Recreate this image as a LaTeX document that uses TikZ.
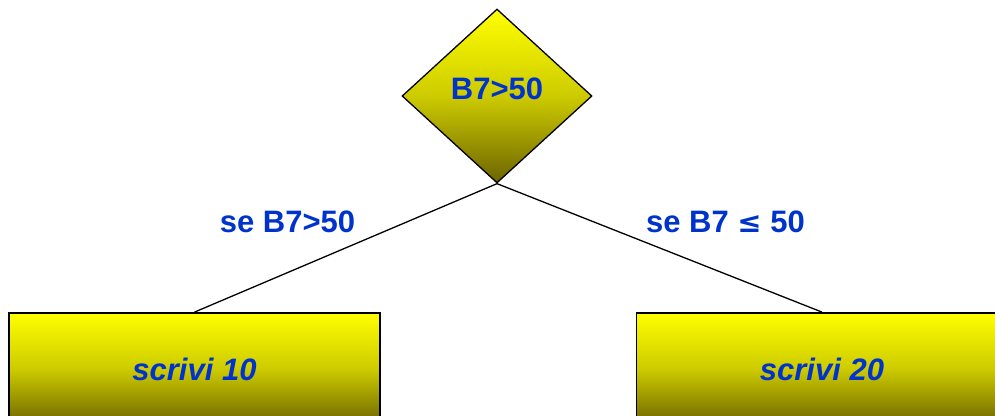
\documentclass[tikz,border=0pt]{standalone}
\usepackage{fontspec}
\setmainfont{Liberation Sans}
\newfontfamily\symfont{DejaVu Sans}
\usetikzlibrary{shapes.geometric}

\definecolor{txtblue}{RGB}{0,51,204}
\definecolor{olivemid}{RGB}{205,203,0}
\definecolor{olivebot}{RGB}{108,100,0}

\tikzset{
  bigtext/.style={font=\fontsize{31bp}{37bp}\selectfont\bfseries, text=txtblue},
  yellowfill/.style={top color=yellow, bottom color=olivebot, middle color=olivemid},
  decision/.style={diamond, draw, line width=1.3bp, yellowfill,
    minimum width=190bp, minimum height=174bp, inner sep=0pt, bigtext,
    text height=22.2bp, text depth=15bp},
  outbox/.style={rectangle, draw, line width=1.8bp, yellowfill,
    minimum width=371bp, minimum height=112bp, inner sep=0pt, bigtext},
}

\begin{document}
\begin{tikzpicture}[x=1bp, y=-1bp]
    \clip (0,0) rectangle (995,415);

    % decision
    \node[decision] (cond) at (497, 96) {B7>50};

    % the two outputs
    \node[outbox] (write10) at (194.5, 369) {\itshape scrivi 10};
    \node[outbox] (write20) at (822, 369) {\itshape scrivi 20};

    % branches
    \draw[line width=1.3bp] (cond.south) -- (write10.north);
    \draw[line width=1.3bp] (cond.south) -- (write20.north);

    % labels for the branches
    \node[bigtext, anchor=base] (iftrue) at (287.5, 232) {se B7>50};
    \node[bigtext, anchor=base] (iffalse) at (725.5, 232) {se B7 {\symfont\fontsize{29bp}{35bp}\selectfont\bfseries ≤} 50};
  \end{tikzpicture}
\end{document}
